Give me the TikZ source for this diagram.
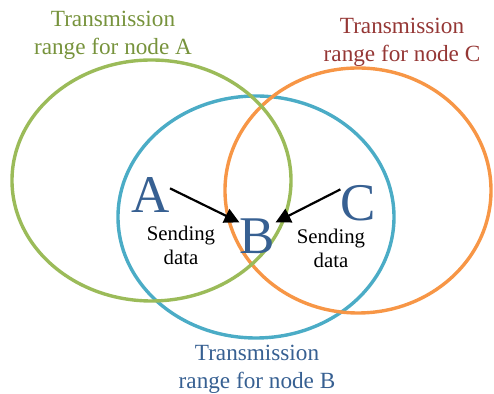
\documentclass[tikz,border=0pt]{standalone}
\usepackage{fontspec}
\setmainfont{Liberation Serif}
\usetikzlibrary{arrows.meta}
\definecolor{verde}{HTML}{9BBB59}
\definecolor{azul}{HTML}{4BACC6}
\definecolor{naranja}{HTML}{F79646}
\definecolor{verdetexto}{HTML}{77933C}
\definecolor{rojotexto}{HTML}{953735}
\definecolor{azultexto}{HTML}{376092}
\tikzset{
	>={Triangle[length=7.5pt,width=7.5pt]}, % Punta de flecha triangular y rellena
	rango/.style={line width=1.7pt}, % Borde de cada zona de alcance
	etiqueta/.style={align=center, font=\fontsize{11.6}{14}\selectfont}, % Texto de cada zona
	letra/.style={inner sep=0pt, text=azultexto, font=\fontsize{26.5}{26.5}\selectfont}, % Nombre de cada nodo
	envio/.style={align=center, font=\fontsize{10.4}{12}\selectfont}, % Texto junto a las flechas
	flecha/.style={->, line width=1.1pt} % Flechas de envio
}

\begin{document}
\begin{tikzpicture}[x=0.5pt, y=-0.5pt]
				\useasboundingbox (0,0) rectangle (494,394);
				\draw[rango, azul] (256,217) ellipse [x radius=69pt, y radius=60.5pt];
				\draw[rango, naranja] (358,190.5) ellipse [x radius=66.5pt, y radius=61.25pt];
				\draw[rango, verde] (151.5,180.5) ellipse [x radius=69.75pt, y radius=60.25pt];
				\node[etiqueta, text=verdetexto] (rangoA) at (113,35) {Transmission\\range for node A};
				\node[etiqueta, text=rojotexto] (rangoC) at (402,42) {Transmission\\range for node C};
				\node[etiqueta, text=azultexto] (rangoB) at (257,369) {Transmission\\range for node B};
				\node[letra] (A) at (150.5,195.5) {A};
				\node[letra] (B) at (257.5,236.5) {B};
				\node[letra] (C) at (358.5,203.5) {C};
				\node[envio] (envioA) at (181,245) {Sending\\data};
				\node[envio] (envioC) at (331,248) {Sending\\data};
				\draw	(A.20) edge[flecha] (B.142)
						(C.142) edge[flecha] (B.38);
			\end{tikzpicture}
\end{document}
